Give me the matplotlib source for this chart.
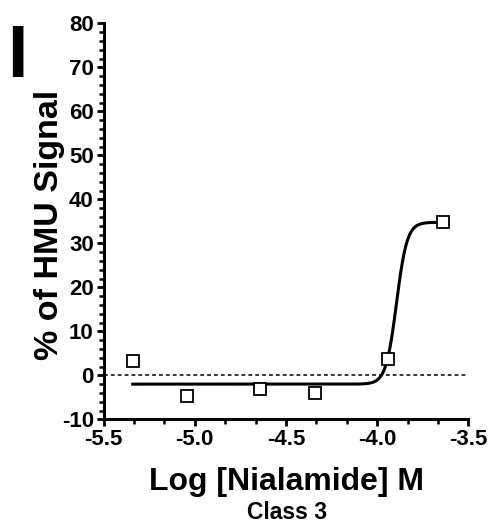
import numpy as np
from matplotlib import pyplot as plt
from matplotlib.ticker import MultipleLocator

plt.rcParams['font.family'] = ['Liberation Sans', 'DejaVu Sans']
plt.rcParams['font.weight'] = 'bold'
plt.rcParams['axes.unicode_minus'] = False

# measured points
log_conc = [-5.34, -5.04, -4.64, -4.34, -3.94, -3.64]
signal = [3.3, -4.7, -3.0, -4.1, 3.8, 34.8]

# fitted sigmoid
bottom = -2.0
top = 34.8
log_ec50 = -3.894
hill = 15.0

fig = plt.figure(figsize=(4.93, 5.25), dpi=100)
ax = fig.add_axes([0.21, 0.2013, 0.74, 0.754])

xs = np.linspace(log_conc[0], log_conc[-1], 400)
ys = bottom + (top - bottom) / (1 + 10 ** ((log_ec50 - xs) * hill))
ax.plot(xs, ys, color='black', lw=2.2, zorder=3)
ax.axhline(0, color='black', lw=1.1, ls=(0, (2.5, 2)), zorder=2)
ax.plot(log_conc, signal, ls='none', marker='s', ms=8.5, mfc='white',
        mec='black', mew=1.3, zorder=4)

ax.set_xlim(-5.5, -3.5)
ax.set_ylim(-10, 80)
ax.xaxis.set_minor_locator(MultipleLocator(0.5 / 3))
ax.yaxis.set_major_locator(MultipleLocator(10))
ax.yaxis.set_minor_locator(MultipleLocator(2))
ax.set_xticks([-5.5, -5.0, -4.5, -4.0, -3.5])
ax.set_xticklabels(['-5.5', '-5.0', '-4.5', '-4.0', '-3.5'])

for s in ['top', 'right']:
    ax.spines[s].set_visible(False)
for s in ['left', 'bottom']:
    ax.spines[s].set_linewidth(2.2)
ax.tick_params(which='major', length=5, width=2.0, labelsize=16, pad=2)
ax.tick_params(which='minor', length=3.5, width=1.8)
for lab in ax.get_xticklabels() + ax.get_yticklabels():
    lab.set_fontweight('bold')

ax.set_xlabel('Log [Nialamide] M', fontsize=23, fontweight='bold', va='baseline')
ax.xaxis.set_label_coords(0.502, -0.178)
ax.set_ylabel('% of HMU Signal', fontsize=24.5, fontweight='bold', va='center')
ax.yaxis.set_label_coords(-0.147, 0.49)
fig.text(0.582, 0.024, 'Class 3', fontsize=16.5, fontweight='bold', ha='center', va='center')
fig.text(0.0345, 0.891, 'I', fontsize=53, fontweight='bold', ha='center', va='center')

fig.savefig('out.png', dpi=100)
